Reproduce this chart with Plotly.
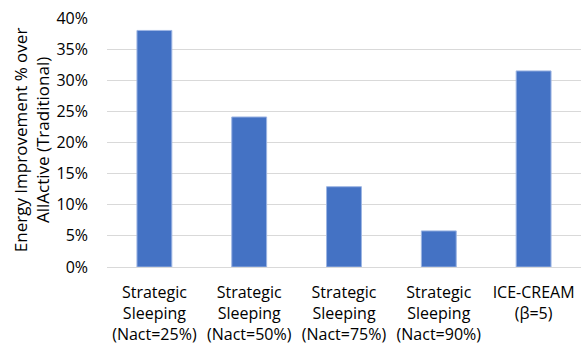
import plotly.graph_objects as go

# Categories and energy improvement values (fraction over AllActive)
categories = [
    "Strategic<br>Sleeping<br>(Nact=25%)",
    "Strategic<br>Sleeping<br>(Nact=50%)",
    "Strategic<br>Sleeping<br>(Nact=75%)",
    "Strategic<br>Sleeping<br>(Nact=90%)",
    "ICE-CREAM<br>(β=5)",
]
improvement = [0.380, 0.241, 0.129, 0.058, 0.315]
y_ticks = [0, 0.05, 0.10, 0.15, 0.20, 0.25, 0.30, 0.35, 0.40]
y_tick_labels = ["0%", "5%", "10%", "15%", "20%", "25%", "30%", "35%", "40%"]

FONT = "Open Sans"
SIZE = 16
TITLE_SIZE = 17
TEXT = "#000000"

fig = go.Figure(
    go.Bar(
        x=categories,
        y=improvement,
        marker=dict(color="#4472C4", line=dict(color="#9DB5E3", width=1)),
        hoverinfo="x+y",
    )
)

fig.update_layout(
    width=582,
    height=350,
    margin=dict(l=107, r=1, t=18, b=83),
    paper_bgcolor="white",
    plot_bgcolor="white",
    bargap=0.632,
    showlegend=False,
    font=dict(family=FONT, size=SIZE, color=TEXT),
    annotations=[
        dict(
            text="Energy Improvement % over<br>AllActive (Traditional)",
            textangle=-90,
            xref="paper",
            yref="paper",
            x=-0.16,
            y=0.51,
            xanchor="center",
            yanchor="middle",
            showarrow=False,
            font=dict(family=FONT, size=TITLE_SIZE, color=TEXT),
        )
    ],
)

fig.update_xaxes(
    showline=False,
    showgrid=False,
    ticks="",
    ticklabelstandoff=14,
    tickfont=dict(family=FONT, size=SIZE, color=TEXT),
)

fig.update_yaxes(
    range=[0, 0.40],
    tickvals=y_ticks,
    ticktext=y_tick_labels,
    showgrid=True,
    gridcolor="#D9D9D9",
    gridwidth=1,
    zeroline=True,
    zerolinecolor="#D9D9D9",
    zerolinewidth=1,
    showline=False,
    ticks="",
    ticklabelstandoff=18,
    tickfont=dict(family=FONT, size=SIZE, color=TEXT),
)

fig.write_html("out.html")
